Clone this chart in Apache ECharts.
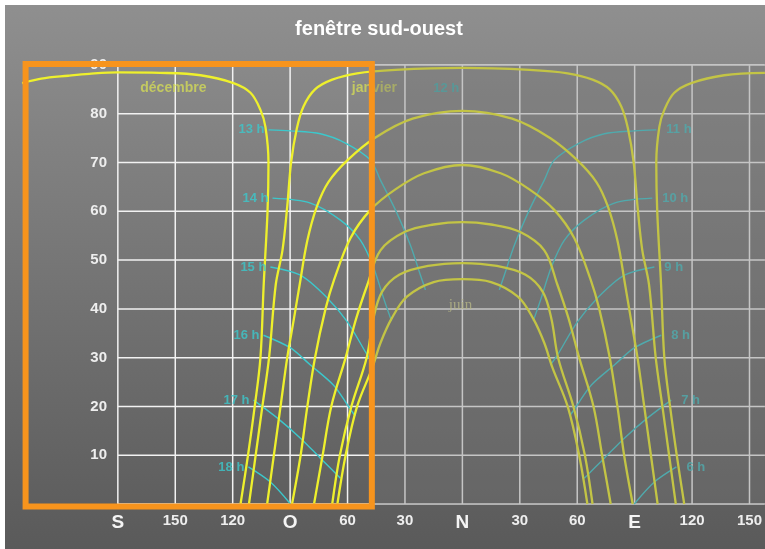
<!DOCTYPE html>
<html>
<head>
<meta charset="utf-8">
<title>fenêtre sud-ouest</title>
<script src="https://cdn.jsdelivr.net/npm/echarts@6/dist/echarts.min.js"></script>
<style>
  html, body { margin: 0; padding: 0; background: #fff; }
  #chart { position: absolute; left: 0; top: 5px; width: 765px; height: 544px; }
  #edge { position: absolute; left: 0; top: 0; width: 5px; height: 549px; background: #fff; z-index: 2; }
</style>
</head>
<body>
<div id="chart"></div>
<div id="edge"></div>
<script>
// Graduations (azimut en x, hauteur en y)
const xTickValues = [-180, -150, -120, -90, -60, -30, 0, 30, 60, 90, 120, 150];
const xTickLabels = ['S', '150', '120', 'O', '60', '30', 'N', '30', '60', 'E', '120', '150'];
const cardinalLabels = ['S', 'O', 'N', 'E'];
const yTickValues = [0, 10, 20, 30, 40, 50, 60, 70, 80, 90];
const xAxisMin = -240;   // marge a gauche du S pour la courbe de decembre
const gridXStart = -180;
const xMax = 158;

// Courbes journalieres [azimut, hauteur]
const decembreLeft = [[-115.9, 0], [-112, 10], [-108.5, 20], [-105.5, 30], [-103.8, 45], [-101.8, 60], [-101.3, 70], [-102.9, 77.3], [-105.5, 80.8], [-110.7, 84.3], [-119.6, 86.3], [-136.8, 87.9], [-158, 88.4], [-180, 88.5], [-195, 88.2], [-206, 87.8], [-220, 87.2], [-230, 86.3]];
const decembreRight = [[115.9, 0], [112, 10], [108.5, 20], [105.5, 30], [103.8, 45], [101.8, 60], [101.3, 70], [102.9, 77.3], [105.5, 80.8], [110.7, 84.3], [119.6, 86.3], [136.8, 87.9], [158, 88.4]];
const janvier = [[-111.5, 0], [-108, 10], [-104.5, 20], [-101, 30], [-97.5, 45], [-94, 52], [-91.5, 61], [-89.5, 70], [-86.5, 77], [-83, 81.5], [-77, 85], [-68, 87], [-55, 88.3], [-35, 89], [0, 89.4], [35, 89], [55, 88.3], [68, 87], [77, 85], [83, 81.5], [86.5, 77], [89.5, 70], [91.5, 61], [94, 52], [97.5, 45], [101, 30], [104.5, 20], [108, 10], [111.5, 0]];
const fevrier = [[-102, 0], [-98.5, 10], [-95, 20], [-91.5, 30], [-88, 38], [-85, 45], [-81, 54], [-76, 61], [-70, 66], [-60, 70.5], [-46, 75], [-26, 79], [0, 80.6], [26, 79], [46, 75], [60, 70.5], [70, 66], [76, 61], [81, 54], [85, 45], [88, 38], [91.5, 30], [95, 20], [98.5, 10], [102, 0]];
const mars = [[-89, 0], [-84.5, 10], [-81, 20], [-77, 30], [-71.5, 40], [-67, 46], [-58.5, 54.5], [-48, 60.3], [-35, 64.5], [-20, 67.8], [0, 69.5], [20, 67.8], [35, 64.5], [48, 60.3], [58.5, 54.5], [67, 46], [71.5, 40], [77, 30], [81, 20], [84.5, 10], [89, 0]];
const avril = [[-77.5, 0], [-73, 10], [-68.5, 20], [-61, 30], [-55.5, 38], [-49.6, 45], [-42.8, 52], [-30, 55.8], [-15, 57.3], [0, 57.8], [15, 57.3], [30, 55.8], [42.8, 52], [49.6, 45], [55.5, 38], [61, 30], [68.5, 20], [73, 10], [77.5, 0]];
const mai = [[-68, 0], [-64, 10], [-58, 20], [-50, 30], [-46.5, 38], [-42, 43.5], [-33, 47], [-18, 48.8], [0, 49.4], [18, 48.8], [33, 47], [42, 43.5], [46.5, 38], [50, 30], [58, 20], [64, 10], [68, 0]];
const juin = [[-65.3, 0], [-61, 10], [-55, 20], [-47, 28], [-42.8, 33], [-37, 38], [-29, 42.5], [-15, 45.5], [0, 46.1], [15, 45.5], [29, 42.5], [37, 38], [42.8, 33], [47, 28], [55, 20], [61, 10], [65.3, 0]];

// Lignes horaires (apres-midi a gauche, matin a droite)
const hourNamesPM = ['13 h', '14 h', '15 h', '16 h', '17 h', '18 h'];
const hourLinesPM = [
    [[-101.3, 76.7], [-89.8, 76.5], [-74.2, 75.9], [-61.1, 74], [-48, 70.5], [-42.8, 66.4], [-35, 60.3], [-27.2, 53.1], [-21.9, 46.9], [-19.3, 43.9]],
    [[-99.2, 62.7], [-79.4, 61.7], [-63.7, 58.2], [-53.3, 54.1], [-46.5, 48.6], [-41, 42], [-37, 37.5]],
    [[-100.3, 48.6], [-84.6, 46.9], [-70.5, 42.2], [-60, 37.3], [-49.6, 30.5], [-46, 28.5]],
    [[-103.9, 34.6], [-89.8, 32], [-79.4, 28.5], [-67.4, 24.4], [-60, 20.3], [-56, 18]],
    [[-109.1, 21.3], [-96.6, 17.6], [-84.6, 13.5], [-74.2, 9.4], [-63.7, 5.3]],
    [[-111.8, 7.6], [-100.3, 4.5], [-89.8, 0]]
];
const hourNamesAM = ['11 h', '10 h', '9 h', '8 h', '7 h', '6 h'];
const hourLinesAM = [
    [[101.3, 76.7], [89.8, 76.5], [74.2, 75.9], [61.1, 74], [48, 70.5], [42.8, 66.4], [35, 60.3], [27.2, 53.1], [21.9, 46.9], [19.3, 43.9]],
    [[99.2, 62.7], [79.4, 61.7], [63.7, 58.2], [53.3, 54.1], [46.5, 48.6], [41, 42], [37, 37.5]],
    [[100.3, 48.6], [84.6, 46.9], [70.5, 42.2], [60, 37.3], [49.6, 30.5], [46, 28.5]],
    [[103.9, 34.6], [89.8, 32], [79.4, 28.5], [67.4, 24.4], [60, 20.3], [56, 18]],
    [[109.1, 21.3], [96.6, 17.6], [84.6, 13.5], [74.2, 9.4], [63.7, 5.3]],
    [[111.8, 7.6], [100.3, 4.5], [89.8, 0]]
];

// Textes poses sur le graphique [texte, azimut, hauteur]
const monthLabels = [['décembre', -151, 85.3], ['janvier', -46, 85.3]];
const noonLabel = ['12 h', -8.4, 85.3];
const juneLabel = ['juin', -1, 40.8];

// Zone encadree en orange (le reste est assombri)
const boxX = [-228.2, -47.3];
const boxY = [-0.5, 90.2];

const YELLOW = '#eef02c';
const CYAN = '#3cc8cc';
const GRIDCOLOR = '#f2f2f2';
const FONT = '"Liberation Sans", Arial, sans-serif';

const chart = echarts.init(document.getElementById('chart'));

function curve(name, data) {
    return {
        name: name,
        type: 'line',
        data: data,
        showSymbol: false,
        smooth: 0.35,
        clip: false,
        silent: true,
        z: 3,
        lineStyle: { color: YELLOW, width: 2.3 }
    };
}

function hourLine(name, data) {
    return {
        name: name,
        type: 'line',
        data: data,
        showSymbol: false,
        smooth: 0.3,
        clip: false,
        silent: true,
        z: 2,
        lineStyle: { color: CYAN, width: 1.4 }
    };
}

function gridLine(data) {
    return {
        type: 'line',
        data: data,
        showSymbol: false,
        silent: true,
        z: 1,
        lineStyle: { color: GRIDCOLOR, width: 1.5 }
    };
}

function textSeries(items, position, distance, style) {
    return {
        type: 'scatter',
        symbolSize: 0,
        silent: true,
        clip: false,
        z: 4,
        data: items.map(it => ({ name: it[0], value: [it[1], it[2]] })),
        label: Object.assign({
            show: true,
            position: position,
            distance: distance,
            formatter: '{b}'
        }, style)
    };
}

const hourLabelStyle = { color: CYAN, fontFamily: FONT, fontWeight: 'bold', fontSize: 13 };
const yTop = yTickValues[yTickValues.length - 1];

const series = [];
// quadrillage : verticales du S a la droite, horizontales a partir du S
xTickValues.forEach(x => series.push(gridLine([[x, 0], [x, yTop]])));
yTickValues.forEach(y => series.push(gridLine([[gridXStart, y], [xMax, y]])));

series.push(
    curve('décembre', decembreLeft),
    curve('décembre', decembreRight),
    curve('janvier', janvier),
    curve('février', fevrier),
    curve('mars', mars),
    curve('avril', avril),
    curve('mai', mai),
    curve('juin', juin)
);
hourLinesPM.forEach((d, i) => series.push(hourLine(hourNamesPM[i], d)));
hourLinesAM.forEach((d, i) => series.push(hourLine(hourNamesAM[i], d)));

// etiquettes des heures, au debut de chaque ligne
series.push(textSeries(hourLinesPM.map((d, i) => [hourNamesPM[i], d[0][0], d[0][1]]), 'left', 4, hourLabelStyle));
series.push(textSeries(hourLinesAM.map((d, i) => [hourNamesAM[i], d[0][0], d[0][1]]), 'right', 10, hourLabelStyle));
series.push(textSeries(monthLabels, 'inside', 0, { color: '#d2da58', fontFamily: FONT, fontWeight: 'bold', fontSize: 14 }));
series.push(textSeries([noonLabel], 'inside', 0, { color: '#3cb4b4', fontFamily: FONT, fontWeight: 'bold', fontSize: 13 }));
series.push(textSeries([juneLabel], 'inside', 0, { color: '#d8d890', fontFamily: '"Liberation Serif", serif', fontSize: 15 }));

// voile gris sur la partie hors cadre
series.push({
    type: 'line',
    data: [[boxX[1], yTop], [xMax, yTop]],
    showSymbol: false,
    silent: true,
    z: 10,
    lineStyle: { width: 0 },
    areaStyle: { color: 'rgba(116,116,116,0.5)', origin: 'start' }
});

// cadre orange
series.push({
    type: 'line',
    data: [[boxX[0], boxY[1]], [boxX[1], boxY[1]], [boxX[1], boxY[0]], [boxX[0], boxY[0]], [boxX[0], boxY[1]]],
    showSymbol: false,
    silent: true,
    clip: false,
    z: 12,
    lineStyle: { color: '#f7941d', width: 6, join: 'miter', cap: 'square' }
});

chart.setOption({
    animation: false,
    backgroundColor: {
        type: 'linear', x: 0, y: 0, x2: 0, y2: 1,
        colorStops: [{ offset: 0, color: '#8f8f8f' }, { offset: 1, color: '#5a5a5a' }]
    },
    title: {
        text: 'fenêtre sud-ouest',
        left: 374,
        top: 9,
        textAlign: 'center',
        textStyle: { color: '#ffffff', fontFamily: FONT, fontWeight: 'bold', fontSize: 20 }
    },
    grid: { left: 2.4, right: 0, top: 60, bottom: 45, containLabel: false },
    xAxis: {
        type: 'value',
        min: xAxisMin,
        max: xMax,
        interval: 30,
        axisLine: { show: false },
        axisTick: { show: false },
        splitLine: { show: false },
        axisLabel: {
            margin: 9,
            showMaxLabel: false,
            color: '#f0f0f0',
            fontFamily: FONT,
            fontWeight: 'bold',
            formatter: function (value) {
                const i = xTickValues.indexOf(value);
                if (i < 0) return '';
                const t = xTickLabels[i];
                return cardinalLabels.includes(t) ? '{c|' + t + '}' : '{d|' + t + '}';
            },
            rich: {
                c: { fontSize: 19, fontWeight: 'bold', color: '#f4f4f4', fontFamily: FONT },
                d: { fontSize: 15, fontWeight: 'bold', color: '#eeeeee', fontFamily: FONT }
            }
        }
    },
    yAxis: {
        type: 'value',
        min: 0,
        max: yTop,
        interval: 10,
        offset: -115,
        axisLine: { show: false },
        axisTick: { show: false },
        splitLine: { show: false },
        axisLabel: {
            margin: 11,
            color: '#eeeeee',
            fontFamily: FONT,
            fontWeight: 'bold',
            fontSize: 15,
            formatter: v => (v === 0 ? '' : String(v))
        }
    },
    series: series
});

window.addEventListener('resize', () => chart.resize());
</script>
</body>
</html>
